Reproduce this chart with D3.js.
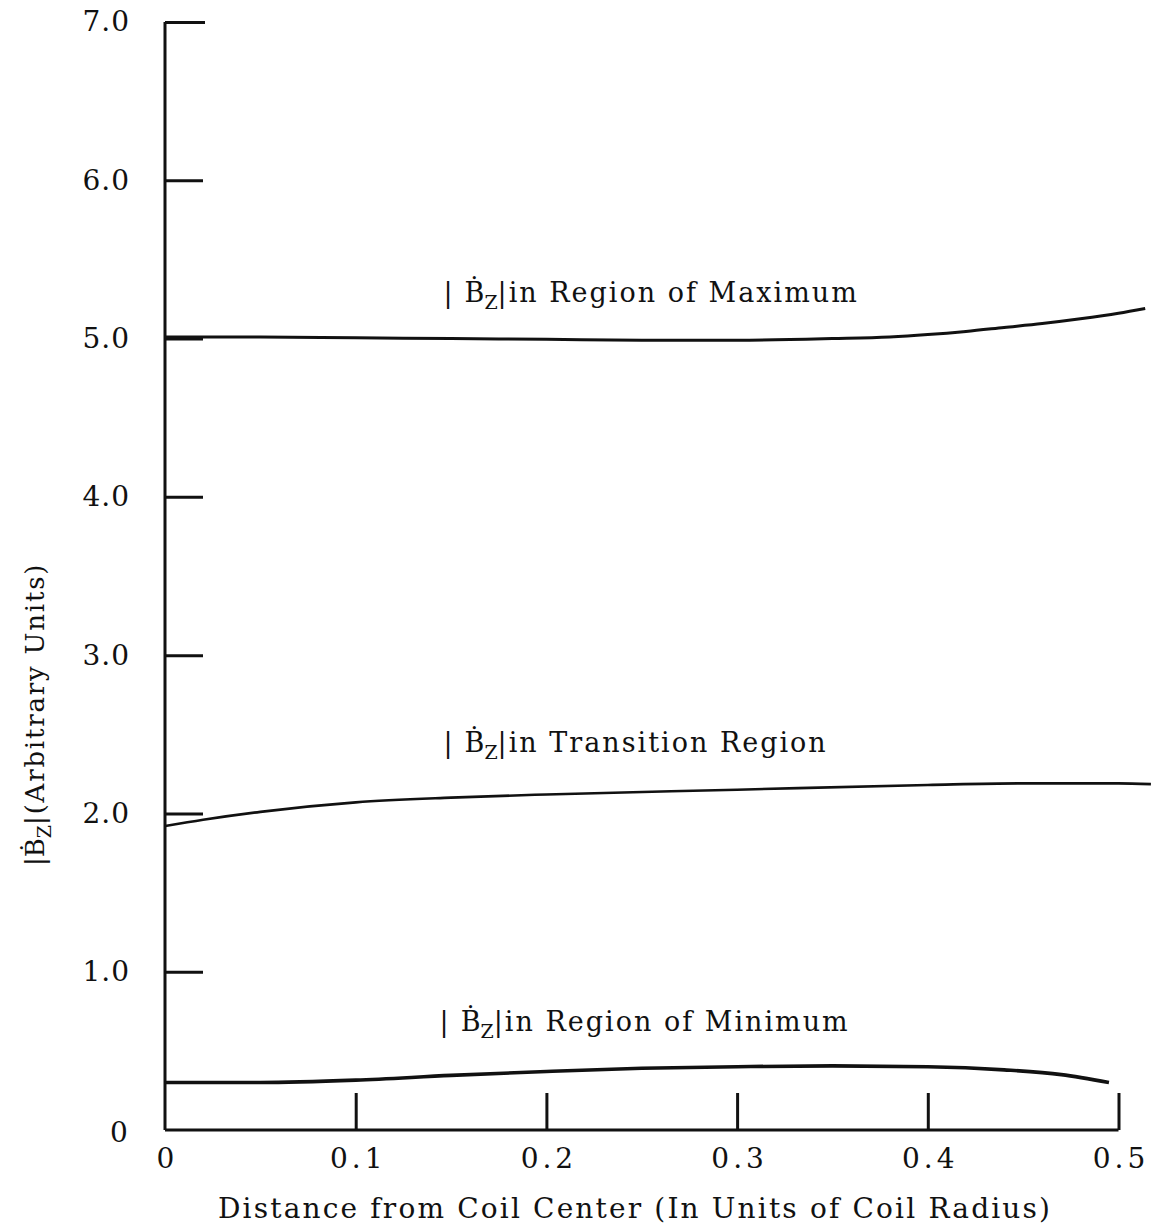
<!DOCTYPE html>
<html>
<head>
<meta charset="utf-8">
<script src="https://cdn.jsdelivr.net/npm/d3@7"></script>
<style>
  body { margin: 0; background: white; }
  text { font-family: "DejaVu Serif", serif; fill: #111; }
</style>
</head>
<body>
<div id="chart"></div>
<script>
// tick values
var xTicks = [0, 0.1, 0.2, 0.3, 0.4, 0.5];
var yTicks = [1, 2, 3, 4, 5, 6, 7];

// curves
var maxX = [0, 0.05, 0.1, 0.15, 0.2, 0.25, 0.3, 0.35, 0.38, 0.4, 0.42, 0.44, 0.46, 0.48, 0.5, 0.514];
var maxY = [5.01, 5.01, 5.005, 5.0, 4.995, 4.99, 4.99, 5.0, 5.01, 5.025, 5.045, 5.07, 5.095, 5.125, 5.16, 5.19];

var transX = [0, 0.02, 0.05, 0.1, 0.15, 0.2, 0.3, 0.4, 0.45, 0.5, 0.517];
var transY = [1.92, 1.96, 2.01, 2.07, 2.10, 2.12, 2.15, 2.18, 2.19, 2.19, 2.185];

var minX = [0, 0.05, 0.1, 0.15, 0.2, 0.25, 0.3, 0.35, 0.4, 0.44, 0.47, 0.495];
var minY = [0.30, 0.30, 0.315, 0.345, 0.37, 0.39, 0.40, 0.405, 0.40, 0.38, 0.35, 0.30];

var labels = ["in Region of Maximum", "in Transition Region", "in Region of Minimum"];
var labelAt = [[0.146, 5.23], [0.146, 2.39], [0.144, 0.625]];

var width = 1158, height = 1229;

var svg = d3.select("#chart").append("svg")
  .attr("width", width)
  .attr("height", height);

var x = d3.scaleLinear().domain([0, 0.5]).range([165, 1118.5]);
var y = d3.scaleLinear().domain([0, 7]).range([1130, 22]);

// y axis, ticks pointing inward
var yAxis = svg.append("g")
  .attr("transform", "translate(" + x(0) + ",0)")
  .call(d3.axisLeft(y)
    .tickValues(yTicks)
    .tickSize(-38)
    .tickSizeOuter(0)
    .tickPadding(35)
    .tickFormat(d3.format(".1f")));
yAxis.select(".domain").attr("d", "M0," + y(7) + "V" + y(0));
yAxis.selectAll(".tick text").attr("font-size", 28).attr("letter-spacing", 1).attr("font-family", "DejaVu Serif");
yAxis.selectAll(".tick line").filter(d => d == 7).attr("x2", 40);

// "0" at the origin
svg.append("text")
  .attr("x", 119).attr("y", y(0) + 12)
  .attr("text-anchor", "middle")
  .attr("font-size", 28)
  .text("0");

// x axis, ticks pointing up
var xAxis = svg.append("g")
  .attr("transform", "translate(0," + y(0) + ")")
  .call(d3.axisBottom(x)
    .tickValues(xTicks)
    .tickSize(-37)
    .tickSizeOuter(0)
    .tickPadding(18)
    .tickFormat(d => d == 0 ? "0" : d3.format(".1f")(d)));
xAxis.select(".domain").attr("d", "M" + x(0) + ",0H" + x(0.5));
xAxis.selectAll(".tick text")
  .attr("font-size", 28)
  .attr("letter-spacing", 4)
  .attr("dx", 2)
  .attr("font-family", "DejaVu Serif");
xAxis.selectAll(".tick line").filter(d => d == 0).remove();

svg.selectAll(".domain, .tick line").attr("stroke", "#111").attr("stroke-width", 3);

// curves
var line = d3.line()
  .x(d => x(d[0]))
  .y(d => y(d[1]))
  .curve(d3.curveMonotoneX);

var series = [
  {xs: maxX, ys: maxY, w: 3},
  {xs: transX, ys: transY, w: 2.6},
  {xs: minX, ys: minY, w: 3.6}
];

svg.selectAll("path.curve")
  .data(series)
  .enter().append("path")
    .attr("class", "curve")
    .attr("fill", "none")
    .attr("stroke", "#111")
    .attr("stroke-width", d => d.w)
    .attr("d", d => line(d.xs.map((v, i) => [v, d.ys[i]])));

// curve annotations: | B-dot sub Z | text
labels.forEach(function(t, i) {
  var g = svg.append("text")
    .attr("x", x(labelAt[i][0]))
    .attr("y", y(labelAt[i][1]))
    .attr("font-size", 27);
  g.append("tspan").text("|");
  g.append("tspan").attr("dx", 12).text("\u1E02");
  g.append("tspan").attr("font-size", 19).attr("dy", 7).text("Z");
  g.append("tspan").attr("dy", -7).attr("letter-spacing", 2).text("|" + t);
});

// axis titles
svg.append("text")
  .attr("x", 218).attr("y", 1218)
  .attr("font-size", 28)
  .attr("textLength", 832)
  .attr("lengthAdjust", "spacing")
  .text("Distance from Coil Center (In Units of Coil Radius)");

var yl = svg.append("text")
  .attr("transform", "translate(44,866) rotate(-90)")
  .attr("font-size", 26);
yl.append("tspan").text("|\u1E02");
yl.append("tspan").attr("font-size", 19).attr("dy", 7).text("Z");
yl.append("tspan").attr("dy", -7).attr("letter-spacing", 1.8).text("|(Arbitrary Units)");
</script>
</body>
</html>
